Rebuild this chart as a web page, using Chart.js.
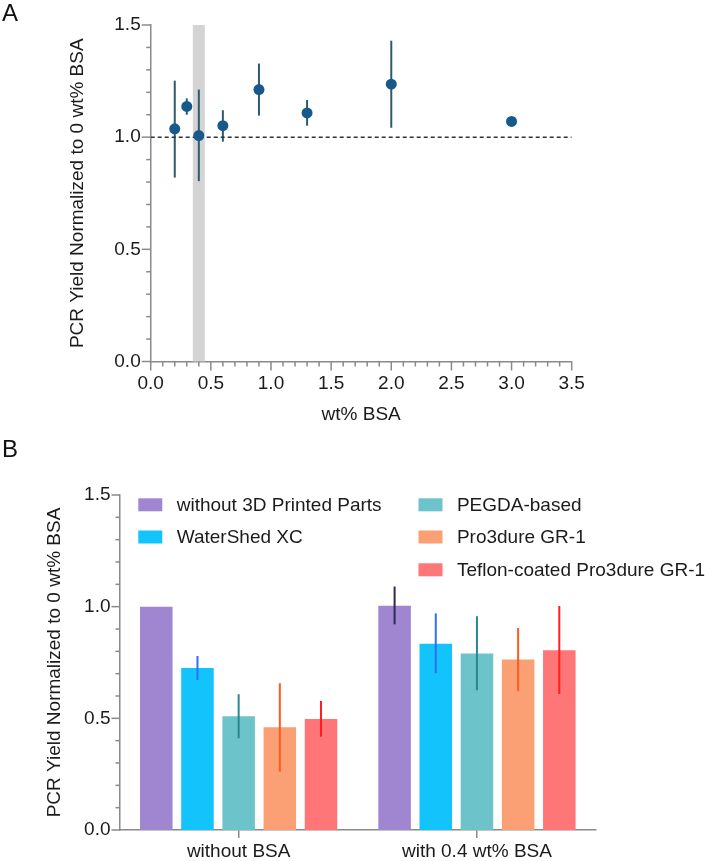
<!DOCTYPE html>
<html><head><meta charset="utf-8">
<script src="https://cdn.jsdelivr.net/npm/chart.js@4/dist/chart.umd.min.js"></script>
<style>
html,body{margin:0;padding:0;background:#fff;}
#wrap{position:relative;width:705px;height:861px;overflow:hidden;background:#fff;}
canvas{position:absolute;left:0;}
#cA{top:0}
#cB{top:420px}
.lbl{position:absolute;font-family:"Liberation Sans",Arial,sans-serif;font-size:24px;color:#111;line-height:24px;}
</style></head><body>
<div id="wrap">
<canvas id="cA" width="705" height="430"></canvas>
<canvas id="cB" width="705" height="441"></canvas>
<div class="lbl" style="left:2px;top:1px">A</div>
<div class="lbl" style="left:2px;top:437px">B</div>
</div>
<script>
// ---------- Panel A data ----------
const bsaWt      = [0.2, 0.3, 0.4, 0.6, 0.9, 1.3, 2.0, 3.0];
const yieldA     = [1.037, 1.137, 1.007, 1.051, 1.212, 1.108, 1.236, 1.070];
const yieldAHigh = [1.252, 1.173, 1.212, 1.120, 1.328, 1.166, 1.430, 1.080];
const yieldALow  = [0.820, 1.100, 0.804, 0.980, 1.096, 1.051, 1.042, 1.060];
const refLevel   = 1.0;
const refRange   = [0.0, 3.5];
const highlightBand = [0.35, 0.45];
const xTickLabelsA = ['0.0','0.5','1.0','1.5','2.0','2.5','3.0','3.5'];
const yTickLabels  = ['0.0','0.5','1.0','1.5'];

// ---------- Panel B data ----------
const categoriesB = ['without BSA', 'with 0.4 wt% BSA'];
const seriesNamesB = ['without 3D Printed Parts', 'WaterShed XC', 'PEGDA-based', 'Pro3dure GR-1', 'Teflon-coated Pro3dure GR-1'];
const noParts   = [1.000, 1.004];
const waterShed = [0.725, 0.834];
const pegda     = [0.509, 0.790];
const pro3dure  = [0.460, 0.763];
const teflon    = [0.497, 0.805];
const errUpperB = [[null, 1.090], [0.779, 0.970], [0.608, 0.957], [0.657, 0.905], [0.578, 1.003]];
const errLowerB = [[null, 0.921], [0.672, 0.702], [0.411, 0.626], [0.261, 0.622], [0.418, 0.609]];

const barColors = ['#a085d0', '#13c3fc', '#6cc3c9', '#fb9f75', '#fe7677'];
const errColors = ['#2c2858', '#2f6ff2', '#2b878d', '#ff5a1f', '#ff1d1d'];

const FONT = '"Liberation Sans", Arial, sans-serif';
const AXIS = '#8a8a8a';
const TXT = '#1b1b1b';
Chart.defaults.font.family = FONT;
Chart.defaults.font.size = 19;
Chart.defaults.color = TXT;
Chart.defaults.animation = false;

// minor/major tick plugin
const tickPlugin = {
  id: 'tickMarks',
  afterDraw(chart, args, opts) {
    const ctx = chart.ctx;
    ctx.save();
    ctx.strokeStyle = AXIS;
    ctx.lineWidth = 1.5;
    (opts.axes || []).forEach(a => {
      const s = chart.scales[a.id];
      const n = Math.round((a.max - a.min) / a.step);
      for (let i = 0; i <= n; i++) {
        const v = a.min + i * a.step;
        const major = i % a.every === 0;
        const len = major ? a.majorLen : a.minorLen;
        const p = s.getPixelForValue(v);
        ctx.beginPath();
        if (a.dir === 'x') {
          const y0 = chart.chartArea.bottom;
          ctx.moveTo(p, y0); ctx.lineTo(p, y0 + len);
        } else {
          const x0 = chart.chartArea.left;
          ctx.moveTo(x0, p); ctx.lineTo(x0 - len, p);
        }
        ctx.stroke();
      }
    });
    ctx.restore();
  }
};

// ---------- Panel A ----------
const bandAndErrA = {
  id: 'bandAndErrA',
  beforeDatasetsDraw(chart) {
    const {ctx} = chart;
    const xs = chart.scales.x, ys = chart.scales.y;
    ctx.save();
    ctx.fillStyle = '#d4d4d4';
    const x1 = xs.getPixelForValue(highlightBand[0]);
    const x2 = xs.getPixelForValue(highlightBand[1]);
    const yt = ys.getPixelForValue(1.5), yb = ys.getPixelForValue(0);
    ctx.fillRect(x1, yt, x2 - x1, yb - yt);
    ctx.strokeStyle = '#2d5b6b';
    ctx.lineWidth = 2;
    for (let i = 0; i < bsaWt.length; i++) {
      const x = xs.getPixelForValue(bsaWt[i]);
      ctx.beginPath();
      ctx.moveTo(x, ys.getPixelForValue(yieldAHigh[i]));
      ctx.lineTo(x, ys.getPixelForValue(yieldALow[i]));
      ctx.stroke();
    }
    ctx.restore();
  }
};

new Chart(document.getElementById('cA'), {
  type: 'scatter',
  data: {
    datasets: [
      {
        type: 'line',
        data: refRange.map(x => ({x, y: refLevel})),
        borderColor: '#333333', borderWidth: 1.5, borderDash: [4, 3],
        pointRadius: 0, fill: false, order: 2
      },
      {
        data: bsaWt.map((x, i) => ({x, y: yieldA[i]})),
        backgroundColor: '#17598b', borderColor: '#17598b',
        pointRadius: 5.5, pointBorderWidth: 0, order: 1
      }
    ]
  },
  options: {
    responsive: false,
    layout: {padding: {top: 25, right: 133.3, left: 0, bottom: 0}},
    plugins: {
      legend: {display: false}, tooltip: {enabled: false},
      tickMarks: {axes: [
        {id: 'x', dir: 'x', min: 0, max: 3.5, step: 0.1, every: 5, majorLen: 9, minorLen: 5},
        {id: 'y', dir: 'y', min: 0, max: 1.5, step: 0.1, every: 5, majorLen: 9, minorLen: 4.5}
      ]}
    },
    scales: {
      x: {
        type: 'linear', min: 0, max: 3.5,
        afterFit(s) { s.height = 68.5; },
        grid: {display: false, drawTicks: false},
        border: {display: true, color: AXIS, width: 1.5},
        ticks: {stepSize: 0.5, padding: 11, color: TXT, callback: (v, i) => xTickLabelsA[i]},
        title: {display: true, text: 'wt% BSA', color: TXT, font: {size: 19}, padding: {top: 0, bottom: 4}}
      },
      y: {
        type: 'linear', min: 0, max: 1.5,
        afterFit(s) { s.width = 150.7; },
        grid: {display: false, drawTicks: false},
        border: {display: true, color: AXIS, width: 1.5},
        ticks: {stepSize: 0.5, padding: 10, color: TXT, callback: (v, i) => yTickLabels[i]},
        title: {display: true, text: 'PCR Yield Normalized to 0 wt% BSA', color: TXT, font: {size: 19}, padding: {top: 66.5, bottom: 0}}
      }
    }
  },
  plugins: [bandAndErrA, tickPlugin]
});

// ---------- Panel B ----------
const errBPlugin = {
  id: 'errB',
  afterDatasetsDraw(chart) {
    const {ctx} = chart;
    const ys = chart.scales.y;
    ctx.save();
    ctx.lineWidth = 2;
    chart.data.datasets.forEach((ds, i) => {
      const meta = chart.getDatasetMeta(i);
      meta.data.forEach((bar, j) => {
        const hi = errUpperB[i][j], lo = errLowerB[i][j];
        if (hi == null || lo == null) return;
        ctx.strokeStyle = errColors[i];
        ctx.beginPath();
        ctx.moveTo(bar.x, ys.getPixelForValue(hi));
        ctx.lineTo(bar.x, ys.getPixelForValue(lo));
        ctx.stroke();
      });
    });
    ctx.restore();
  }
};

const legendB = {
  id: 'legendB',
  afterDraw(chart) {
    const {ctx} = chart;
    const cols = [138.3, 418.5];
    const rows = [78.3, 110.5, 143.3];
    const slots = [[0, 0], [0, 1], [1, 0], [1, 1], [1, 2]];
    ctx.save();
    ctx.font = '19px ' + FONT;
    ctx.textBaseline = 'middle';
    ctx.textAlign = 'left';
    chart.data.datasets.forEach((ds, i) => {
      const [c, r] = slots[i];
      const x = cols[c], y = rows[r];
      ctx.fillStyle = ds.backgroundColor;
      ctx.fillRect(x, y, 24, 13);
      ctx.fillStyle = TXT;
      ctx.fillText(ds.label, x + 38.4, y + 7);
    });
    ctx.restore();
  }
};

const seriesB = [noParts, waterShed, pegda, pro3dure, teflon];
new Chart(document.getElementById('cB'), {
  type: 'bar',
  data: {
    labels: categoriesB,
    datasets: seriesB.map((d, i) => ({
      label: seriesNamesB[i], data: d,
      backgroundColor: barColors[i], borderWidth: 0,
      categoryPercentage: 0.864, barPercentage: 0.79
    }))
  },
  options: {
    responsive: false,
    layout: {padding: {top: 75, right: 108.9, left: 0, bottom: 0}},
    plugins: {
      legend: {display: false}, tooltip: {enabled: false},
      tickMarks: {axes: [
        {id: 'y', dir: 'y', min: 0, max: 1.5, step: 0.1, every: 5, majorLen: 8, minorLen: 4}
      ]}
    },
    scales: {
      x: {
        type: 'category', offset: true,
        afterFit(s) { s.height = 31; },
        grid: {display: true, drawOnChartArea: false, drawTicks: true, tickLength: 8, offset: false, color: AXIS, lineWidth: 1.5},
        border: {display: true, color: AXIS, width: 1.5},
        ticks: {padding: 2, color: TXT}
      },
      y: {
        type: 'linear', min: 0, max: 1.5,
        afterFit(s) { s.width = 119.5; },
        grid: {display: false, drawTicks: false},
        border: {display: true, color: AXIS, width: 1.5},
        ticks: {stepSize: 0.5, padding: 9, color: TXT, callback: (v, i) => yTickLabels[i]},
        title: {display: true, text: 'PCR Yield Normalized to 0 wt% BSA', color: TXT, font: {size: 19}, padding: {top: 43.6, bottom: 0}}
      }
    }
  },
  plugins: [errBPlugin, legendB, tickPlugin]
});
</script>
</body></html>
